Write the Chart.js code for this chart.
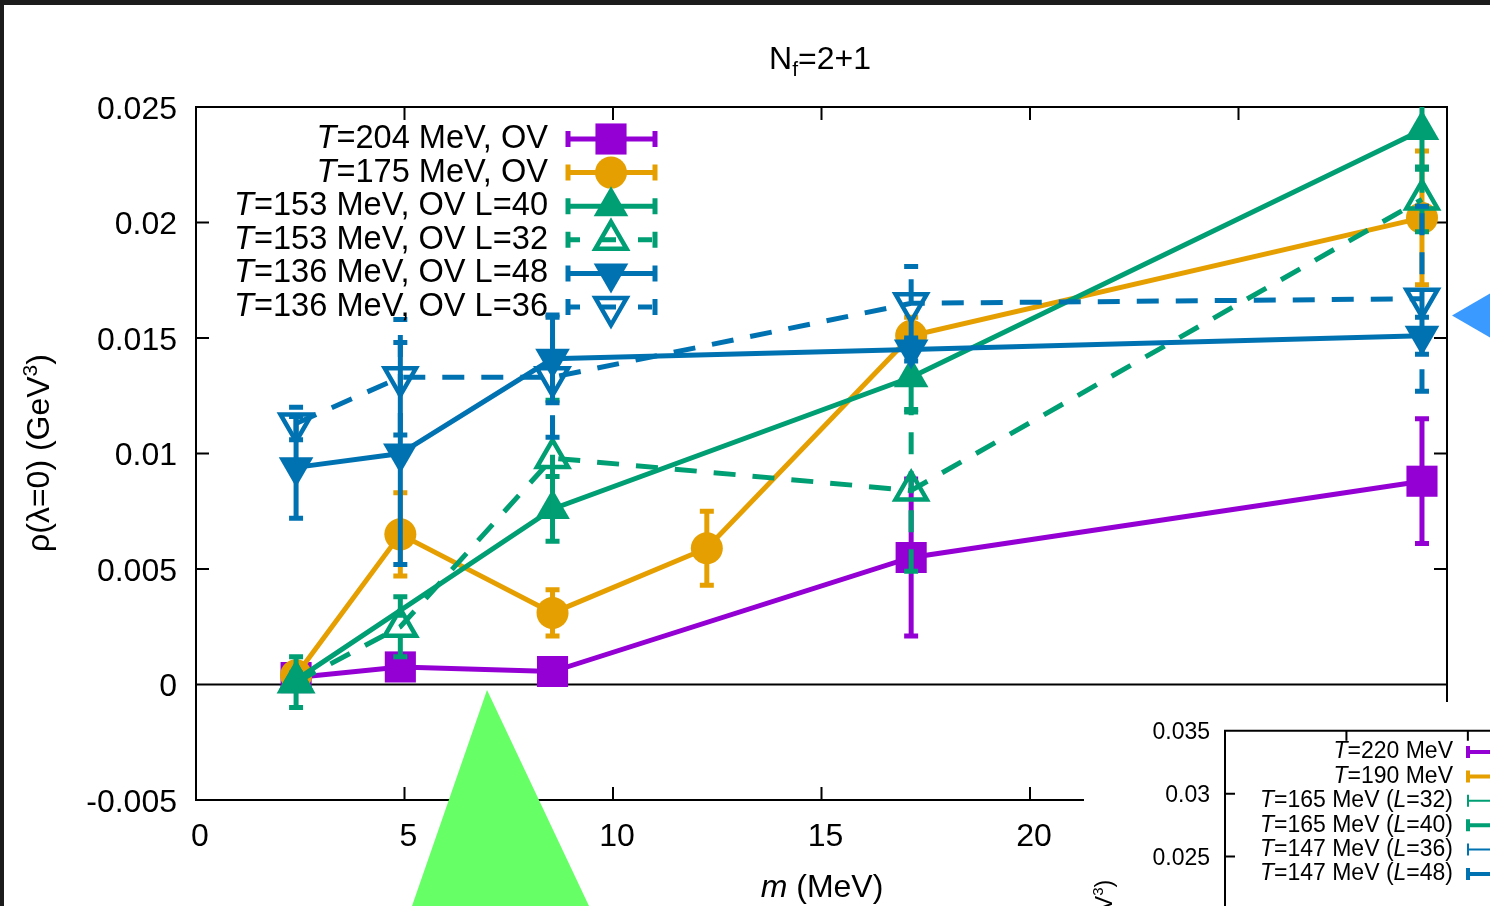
<!DOCTYPE html>
<html>
<head>
<meta charset="utf-8">
<script src="https://cdn.jsdelivr.net/npm/chart.js@4.4.1/dist/chart.umd.min.js"></script>
<style>
html, body { margin: 0; padding: 0; width: 1490px; height: 906px; overflow: hidden; background: #1c1c1c; }
#slide { position: absolute; left: 4px; top: 5px; width: 1486px; height: 901px; background: #fff; }
#main { position: absolute; left: 0; top: 0; }
#insetBox { position: absolute; left: 1084px; top: 702px; width: 406px; height: 204px; background: #fff; overflow: hidden; }
#inset { position: absolute; left: 0; top: 0; }
</style>
</head>
<body>
<div id="slide"></div>
<canvas id="main" width="1490" height="906"></canvas>
<div id="insetBox"><canvas id="inset" width="1000" height="540"></canvas></div>
<script>
// values: quark mass m (MeV) vs rho(lambda=0) (GeV^3)
const m204 = [2.4, 4.9, 8.55, 17.15, 29.4];
const rho204 = [0.0003, 0.00076, 0.00056, 0.0055, 0.0088];
const err204 = [0.0002, 0.0002, 0.0002, 0.0034, 0.0027];

const m175 = [2.4, 4.9, 8.55, 12.25, 17.15, 29.4];
const rho175 = [0.0004, 0.0065, 0.0031, 0.0059, 0.0151, 0.0202];
const err175 = [0.0003, 0.0018, 0.0010, 0.0016, 0.0008, 0.0029];

const m153L40 = [2.4, 8.55, 17.15, 29.4];
const rho153L40 = [0.0002, 0.0076, 0.0133, 0.0240];
const err153L40 = [0.0003, 0.0014, 0.0015, 0.0017];

const m153L32 = [2.4, 4.9, 8.55, 17.15, 29.4];
const rho153L32 = [0.0001, 0.0025, 0.0098, 0.0084, 0.0210];
const err153L32 = [0.0011, 0.0013, 0.0025, 0.0035, 0.0014];

const m136L48 = [2.4, 4.9, 8.55, 17.15, 29.4];
const rho136L48 = [0.0094, 0.0100, 0.0141, 0.0145, 0.0151];
const err136L48 = [0.0022, 0.0048, 0.0019, 0.0005, 0.0008];

const m136L36 = [2.4, 4.9, 8.55, 17.15, 29.4];
const rho136L36 = [0.0113, 0.0133, 0.0133, 0.0165, 0.0167];
const err136L36 = [0.0007, 0.0025, 0.0026, 0.0016, 0.0040];

const xTickValues = [0, 5, 10, 15, 20, 25, 30];
const xTickLabels = ['0', '5', '10', '15', '20', '25', '30'];
const yTickValues = [-0.005, 0, 0.005, 0.01, 0.015, 0.02, 0.025];
const yTickLabels = ['-0.005', '0', '0.005', '0.01', '0.015', '0.02', '0.025'];

// legend texts, [text, italic]
const legend204 = [['T', true], ['=204 MeV, OV', false]];
const legend175 = [['T', true], ['=175 MeV, OV', false]];
const legend153L40 = [['T', true], ['=153 MeV, OV L=40', false]];
const legend153L32 = [['T', true], ['=153 MeV, OV L=32', false]];
const legend136L48 = [['T', true], ['=136 MeV, OV L=48', false]];
const legend136L36 = [['T', true], ['=136 MeV, OV L=36', false]];

// inset (second figure, only its corner is on the slide)
const insetLegend = [
    [['T', true], ['=220 MeV', false]],
    [['T', true], ['=190 MeV', false]],
    [['T', true], ['=165 MeV (', false], ['L', true], ['=32)', false]],
    [['T', true], ['=165 MeV (', false], ['L', true], ['=40)', false]],
    [['T', true], ['=147 MeV (', false], ['L', true], ['=36)', false]],
    [['T', true], ['=147 MeV (', false], ['L', true], ['=48)', false]]
];
const insetColors = ['#9400d3', '#e69f00', '#009e73', '#009e73', '#0072b2', '#0072b2'];
const insetWidths = [4, 4, 2, 4, 2, 4];
const insetYTickValues = [0, 0.005, 0.01, 0.015, 0.02, 0.025, 0.03, 0.035];
const insetYTickLabels = ['0', '0.005', '0.01', '0.015', '0.02', '0.025', '0.03', '0.035'];
const insetXTickValues = [0, 5, 10, 15, 20, 25, 30, 35];

const PURPLE = '#9400d3', ORANGE = '#e69f00', GREEN = '#009e73', BLUE = '#0072b2';
const DASH = [22, 17];
const FONT = '"Liberation Sans", Arial, sans-serif';

function pts(xs, ys) { return xs.map((x, i) => ({x: x, y: ys[i]})); }

function series(label, xs, ys, errs, color, style, opts) {
    opts = opts || {};
    const open = !!opts.open;
    return {
        label: label.map(p => p[0]).join(''),
        legendParts: label,
        data: pts(xs, ys),
        errors: errs,
        borderColor: color,
        backgroundColor: color,
        borderWidth: 5,
        borderDash: opts.dashed ? DASH : [],
        pointStyle: style,
        pointRotation: opts.rot || 0,
        pointRadius: opts.radius,
        pointBackgroundColor: open ? 'rgba(0,0,0,0)' : color,
        pointBorderColor: color,
        pointBorderWidth: open ? 4.5 : 0,
        dashed: !!opts.dashed,
        open: open,
        tension: 0,
        order: opts.order
    };
}

function drawParts(ctx, parts, x, y, size, align) {
    let w = 0;
    parts.forEach(p => {
        ctx.font = (p[1] ? 'italic ' : '') + size + 'px ' + FONT;
        w += ctx.measureText(p[0]).width;
    });
    let cx = align === 'right' ? x - w : (align === 'center' ? x - w / 2 : x);
    ctx.textAlign = 'left';
    parts.forEach(p => {
        ctx.font = (p[1] ? 'italic ' : '') + size + 'px ' + FONT;
        ctx.fillText(p[0], cx, y);
        cx += ctx.measureText(p[0]).width;
    });
}

function drawMarker(ctx, ds, x, y) {
    const r = ds.pointRadius;
    ctx.save();
    ctx.setLineDash([]);
    ctx.beginPath();
    if (ds.pointStyle === 'rect') {
        const s = r * Math.SQRT1_2;
        ctx.rect(x - s, y - s, 2 * s, 2 * s);
    } else if (ds.pointStyle === 'circle') {
        ctx.arc(x, y, r, 0, Math.PI * 2);
    } else {
        let a = ds.pointRotation * Math.PI / 180;
        ctx.moveTo(x + Math.sin(a) * r, y - Math.cos(a) * r);
        a += Math.PI * 2 / 3;
        ctx.lineTo(x + Math.sin(a) * r, y - Math.cos(a) * r);
        a += Math.PI * 2 / 3;
        ctx.lineTo(x + Math.sin(a) * r, y - Math.cos(a) * r);
        ctx.closePath();
    }
    if (ds.open) {
        ctx.lineWidth = ds.pointBorderWidth;
        ctx.strokeStyle = ds.borderColor;
        ctx.stroke();
    } else {
        ctx.fillStyle = ds.borderColor;
        ctx.fill();
    }
    ctx.restore();
}

const gnuplotLook = {
    id: 'gnuplotLook',
    beforeDatasetsDraw(chart) {
        const ctx = chart.ctx;
        const a = chart.chartArea;
        const xs = chart.scales.x, ys = chart.scales.y;
        ctx.save();
        ctx.strokeStyle = '#000';
        ctx.lineWidth = 2;
        ctx.strokeRect(a.left, a.top, a.right - a.left, a.bottom - a.top);
        const y0 = ys.getPixelForValue(0);
        ctx.beginPath();
        ctx.moveTo(a.left, y0);
        ctx.lineTo(a.right, y0);
        xTickValues.forEach(v => {
            if (v <= xs.min || v >= xs.max) return;
            const px = xs.getPixelForValue(v);
            ctx.moveTo(px, a.bottom); ctx.lineTo(px, a.bottom - 13);
            ctx.moveTo(px, a.top); ctx.lineTo(px, a.top + 13);
        });
        yTickValues.forEach(v => {
            if (v <= ys.min || v >= ys.max) return;
            const py = ys.getPixelForValue(v);
            ctx.moveTo(a.left, py); ctx.lineTo(a.left + 13, py);
            ctx.moveTo(a.right, py); ctx.lineTo(a.right - 13, py);
        });
        ctx.stroke();
        ctx.restore();
    },
    beforeDatasetDraw(chart, args) {
        // error bars, drawn just under each series' line and points
        const ctx = chart.ctx;
        const a = chart.chartArea;
        const ds = chart.data.datasets[args.index];
        const ys = chart.scales.y;
        ctx.save();
        ctx.beginPath();
        ctx.rect(a.left, a.top, a.right - a.left, a.bottom - a.top);
        ctx.clip();
        ctx.strokeStyle = ds.borderColor;
        ctx.lineWidth = 5;
        ctx.setLineDash(ds.dashed ? DASH : []);
        args.meta.data.forEach((el, i) => {
            const v = ds.data[i].y, e = ds.errors[i];
            const hi = ys.getPixelForValue(v + e), lo = ys.getPixelForValue(v - e);
            ctx.beginPath();
            ctx.moveTo(el.x, lo); ctx.lineTo(el.x, hi);
            ctx.moveTo(el.x - 7, lo); ctx.lineTo(el.x + 7, lo);
            ctx.moveTo(el.x - 7, hi); ctx.lineTo(el.x + 7, hi);
            ctx.stroke();
        });
        ctx.restore();
    },
    afterDatasetsDraw(chart) {
        // key in the upper left, text right-aligned with the samples on its right
        const ctx = chart.ctx;
        ctx.save();
        ctx.fillStyle = '#000';
        ctx.textBaseline = 'middle';
        chart.data.datasets.forEach((ds, i) => {
            const y = 139 + i * 33.6;
            ctx.fillStyle = '#000';
            drawParts(ctx, ds.legendParts, 548, y, 32.6, 'right');
            ctx.strokeStyle = ds.borderColor;
            ctx.lineWidth = 5;
            ctx.setLineDash(ds.dashed ? [14, 22] : []);
            ctx.beginPath();
            ctx.moveTo(566, y); ctx.lineTo(657, y);
            ctx.stroke();
            ctx.setLineDash([]);
            ctx.beginPath();
            ctx.moveTo(568, y - 8); ctx.lineTo(568, y + 8);
            ctx.moveTo(655, y - 8); ctx.lineTo(655, y + 8);
            ctx.stroke();
            drawMarker(ctx, ds, 611, y);
        });
        ctx.restore();
    },
    afterDraw(chart) {
        const ctx = chart.ctx;
        ctx.save();
        ctx.fillStyle = '#000';
        ctx.textBaseline = 'alphabetic';
        // title N_f=2+1
        ctx.font = '32px ' + FONT;
        const wN = ctx.measureText('N').width, wR = ctx.measureText('=2+1').width;
        ctx.font = '21px ' + FONT;
        const wF = ctx.measureText('f').width;
        let tx = 820 - (wN + wF + wR) / 2;
        ctx.font = '32px ' + FONT;
        ctx.fillText('N', tx, 69);
        ctx.font = '21px ' + FONT;
        ctx.fillText('f', tx + wN, 76);
        ctx.font = '32px ' + FONT;
        ctx.fillText('=2+1', tx + wN + wF, 69);
        // x title
        drawParts(ctx, [['m', true], [' (MeV)', false]], 822, 897, 32, 'center');
        // y title, rotated
        ctx.translate(49, 453);
        ctx.rotate(-Math.PI / 2);
        ctx.font = '32px ' + FONT;
        const t1 = 'ρ(λ=0) (GeV', t2 = '3', t3 = ')';
        const w1 = ctx.measureText(t1).width, w3 = ctx.measureText(t3).width;
        ctx.font = '21px ' + FONT;
        const w2 = ctx.measureText(t2).width;
        let sx = -(w1 + w2 + w3) / 2;
        ctx.font = '32px ' + FONT;
        ctx.fillText(t1, sx, 0);
        ctx.font = '21px ' + FONT;
        ctx.fillText(t2, sx + w1, -12);
        ctx.font = '32px ' + FONT;
        ctx.fillText(t3, sx + w1 + w2, 0);
        ctx.restore();

        // slide pointers drawn over the figure
        ctx.save();
        ctx.fillStyle = '#66ff66';
        ctx.beginPath();
        ctx.moveTo(487, 690); ctx.lineTo(412, 906); ctx.lineTo(589, 906);
        ctx.closePath(); ctx.fill();
        ctx.fillStyle = '#3a9aff';
        ctx.beginPath();
        ctx.moveTo(1452, 315.5); ctx.lineTo(1530, 270.5); ctx.lineTo(1530, 360.5);
        ctx.closePath(); ctx.fill();
        ctx.restore();
    }
};

new Chart(document.getElementById('main').getContext('2d'), {
    type: 'line',
    data: {
        datasets: [
            series(legend204, m204, rho204, err204, PURPLE, 'rect', {radius: 22, order: 6}),
            series(legend175, m175, rho175, err175, ORANGE, 'circle', {radius: 16, order: 5}),
            series(legend153L40, m153L40, rho153L40, err153L40, GREEN, 'triangle', {radius: 20, order: 4}),
            series(legend153L32, m153L32, rho153L32, err153L32, GREEN, 'triangle', {radius: 18, open: true, dashed: true, order: 3}),
            series(legend136L48, m136L48, rho136L48, err136L48, BLUE, 'triangle', {radius: 20, rot: 180, order: 2}),
            series(legend136L36, m136L36, rho136L36, err136L36, BLUE, 'triangle', {radius: 18, rot: 180, open: true, dashed: true, order: 1})
        ]
    },
    options: {
        responsive: false,
        animation: false,
        devicePixelRatio: 1,
        events: [],
        layout: { padding: { left: 0, right: 43, top: 107, bottom: 0 } },
        plugins: { legend: { display: false }, title: { display: false }, tooltip: { enabled: false } },
        scales: {
            x: {
                type: 'linear', min: 0, max: 30,
                afterBuildTicks: s => { s.ticks = xTickValues.map(v => ({value: v})); },
                afterFit: s => { s.height = 106; },
                grid: { display: false, drawTicks: false },
                border: { display: false },
                ticks: {
                    color: '#000', font: { family: FONT, size: 32 }, padding: 18, labelOffset: 4,
                    maxRotation: 0, autoSkip: false,
                    callback: (v, i) => xTickLabels[i]
                }
            },
            y: {
                type: 'linear', min: -0.005, max: 0.025,
                afterBuildTicks: s => { s.ticks = yTickValues.map(v => ({value: v})); },
                afterFit: s => { s.width = 196; },
                grid: { display: false, drawTicks: false },
                border: { display: false },
                ticks: {
                    color: '#000', font: { family: FONT, size: 32 }, padding: 19, labelOffset: 3, autoSkip: false,
                    callback: (v, i) => yTickLabels[i]
                }
            }
        }
    },
    plugins: [gnuplotLook]
});

// inset figure peeking in at the bottom right
const insetLook = {
    id: 'insetLook',
    afterDraw(chart) {
        const ctx = chart.ctx;
        const a = chart.chartArea;
        const xs = chart.scales.x, ys = chart.scales.y;
        ctx.save();
        ctx.strokeStyle = '#000';
        ctx.lineWidth = 2;
        ctx.beginPath();
        ctx.moveTo(a.left, a.bottom); ctx.lineTo(a.left, a.top); ctx.lineTo(a.right, a.top);
        insetYTickValues.forEach(v => {
            if (v <= ys.min || v >= ys.max) return;
            const py = ys.getPixelForValue(v);
            ctx.moveTo(a.left, py); ctx.lineTo(a.left + 10, py);
        });
        insetXTickValues.forEach(v => {
            if (v <= xs.min || v >= xs.max) return;
            const px = xs.getPixelForValue(v);
            ctx.moveTo(px, a.top); ctx.lineTo(px, a.top + 10);
        });
        ctx.stroke();
        ctx.fillStyle = '#000';
        ctx.textBaseline = 'middle';
        chart.data.datasets.forEach((ds, i) => {
            const y = 50 + i * 24.4;
            ctx.fillStyle = '#000';
            drawParts(ctx, ds.legendParts, 369, y, 23, 'right');
            ctx.strokeStyle = ds.borderColor;
            ctx.lineWidth = ds.borderWidth;
            ctx.beginPath();
            ctx.moveTo(384, y); ctx.lineTo(520, y);
            ctx.moveTo(384, y - 6); ctx.lineTo(384, y + 6);
            ctx.stroke();
        });
        // y title of the inset
        ctx.translate(28, (a.top + a.bottom) / 2);
        ctx.rotate(-Math.PI / 2);
        ctx.fillStyle = '#000';
        ctx.textBaseline = 'alphabetic';
        ctx.font = '23px ' + FONT;
        const t1 = 'ρ(λ=0) (GeV', t3 = ')';
        const w1 = ctx.measureText(t1).width, w3 = ctx.measureText(t3).width;
        ctx.font = '15px ' + FONT;
        const w2 = ctx.measureText('3').width;
        const sx = -(w1 + w2 + w3) / 2;
        ctx.font = '23px ' + FONT;
        ctx.fillText(t1, sx, 0);
        ctx.fillText(t3, sx + w1 + w2, 0);
        ctx.font = '15px ' + FONT;
        ctx.fillText('3', sx + w1, -9);
        ctx.restore();
    }
};

new Chart(document.getElementById('inset').getContext('2d'), {
    type: 'line',
    data: {
        datasets: insetLegend.map((lab, i) => ({
            label: lab.map(p => p[0]).join(''),
            legendParts: lab,
            data: [],
            borderColor: insetColors[i],
            borderWidth: insetWidths[i]
        }))
    },
    options: {
        responsive: false,
        animation: false,
        devicePixelRatio: 1,
        events: [],
        layout: { padding: { left: 0, right: 9, top: 28, bottom: 71 } },
        plugins: { legend: { display: false }, title: { display: false }, tooltip: { enabled: false } },
        scales: {
            x: { type: 'linear', min: 0, max: 35, display: false },
            y: {
                type: 'linear', min: 0, max: 0.035,
                afterBuildTicks: s => { s.ticks = insetYTickValues.map(v => ({value: v})); },
                afterFit: s => { s.width = 141; },
                grid: { display: false, drawTicks: false },
                border: { display: false },
                ticks: {
                    color: '#000', font: { family: FONT, size: 23 }, padding: 15, labelOffset: 2, autoSkip: false,
                    callback: (v, i) => insetYTickLabels[i]
                }
            }
        }
    },
    plugins: [insetLook]
});
</script>
</body>
</html>
